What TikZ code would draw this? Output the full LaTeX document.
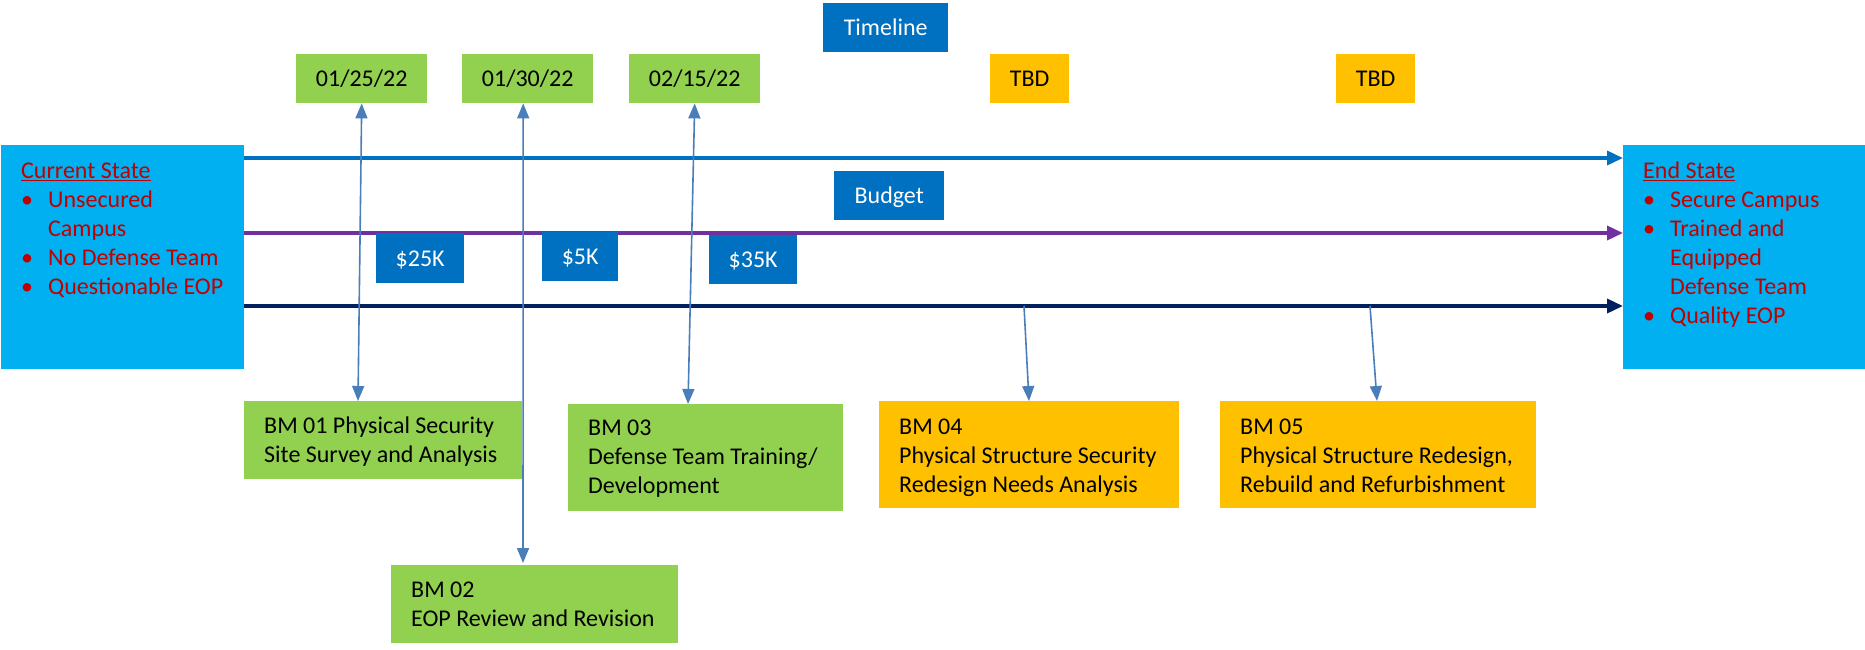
\documentclass[tikz,border=0pt]{standalone}
\usepackage{fontspec}
\setmainfont{Carlito}
\usetikzlibrary{arrows.meta}
\definecolor{stbox}{HTML}{00B0F0}
\definecolor{sttext}{HTML}{C00000}
\definecolor{grn}{HTML}{92D050}
\definecolor{orng}{HTML}{FFC000}
\definecolor{bluebox}{HTML}{0070C0}
\definecolor{purp}{HTML}{7030A0}
\definecolor{navy}{HTML}{002060}
\definecolor{conn}{HTML}{4A7EBB}
\newcommand{\topstrut}{\rule{0pt}{20pt}}
\newcommand{\bul}{\makebox[27pt][l]{•}}
\begin{document}
\begin{tikzpicture}[x=1pt,y=-1pt,
  box/.style={draw=none, inner sep=0pt, anchor=north west, font=\fontsize{24}{29}\selectfont, text height=16pt, text depth=0pt},
  txt/.style={anchor=north west, inner sep=0pt, align=left, font=\fontsize{24}{29}\selectfont},
  hline/.style={line width=3.5pt, -{Triangle[length=16pt,width=14pt]}},
  vline/.style={conn, line width=1.6pt},
  uparr/.style={vline, {Triangle[length=15pt,width=12pt]}-{Triangle[length=15pt,width=12pt]}},
  dnarr/.style={vline, -{Triangle[length=15pt,width=12pt]}}
]
\useasboundingbox (0,0) rectangle (1865,649);

% state boxes
\node[box, fill=stbox, minimum width=243pt, minimum height=224pt] (cur) at (1,145) {};
\node[box, fill=stbox, minimum width=242pt, minimum height=224pt] (end) at (1623,145) {};
\node[txt, text=sttext] (curtxt) at (21,158) {\topstrut\underline{Current State}\\
\bul Unsecured\\
\hspace*{27pt}Campus\\
\bul No Defense Team\\
\bul Questionable EOP};
\node[txt, text=sttext] (endtxt) at (1643,158) {\topstrut\underline{End State}\\
\bul Secure Campus\\
\bul Trained and\\
\hspace*{27pt}Equipped\\
\hspace*{27pt}Defense Team\\
\bul Quality EOP};

% horizontal lines
\draw[hline, bluebox] ([yshift=-13pt]cur.north east) -- ([yshift=-13pt]end.north west);
\draw[hline, purp] ([yshift=-88pt]cur.north east) -- ([yshift=-88pt]end.north west);
\draw[hline, navy] ([yshift=-161pt]cur.north east) -- ([yshift=-161pt]end.north west);

% header boxes
\node[box, fill=bluebox, text=white, minimum width=125pt, minimum height=49pt] (timeline) at (823,3) {Timeline};
\node[box, fill=bluebox, text=white, minimum width=110pt, minimum height=49pt] (budget) at (834,171) {Budget};

% dates
\node[box, fill=grn, minimum width=131pt, minimum height=49pt] (d1) at (296,54) {01/25/22};
\node[box, fill=grn, minimum width=131pt, minimum height=49pt] (d2) at (462,54) {01/30/22};
\node[box, fill=grn, minimum width=131pt, minimum height=49pt] (d3) at (629,54) {02/15/22};
\node[box, fill=orng, minimum width=79pt, minimum height=49pt] (d4) at (990,54) {TBD};
\node[box, fill=orng, minimum width=79pt, minimum height=49pt] (d5) at (1336,54) {TBD};

% budget amounts
\node[box, fill=bluebox, text=white, minimum width=88pt, minimum height=50pt] (b1) at (376,233) {\$25K};
\node[box, fill=bluebox, text=white, minimum width=76pt, minimum height=49pt] (b2) at (542,232) {\$5K};
\node[box, fill=bluebox, text=white, minimum width=88pt, minimum height=49pt] (b3) at (709,235) {\$35K};

% milestone boxes
\node[box, fill=grn, minimum width=278pt, minimum height=78pt] (bm1) at (244,401) {};
\node[box, fill=grn, minimum width=287pt, minimum height=78pt] (bm2) at (391,565) {};
\node[box, fill=grn, minimum width=275pt, minimum height=107pt] (bm3) at (568,404) {};
\node[box, fill=orng, minimum width=300pt, minimum height=107pt] (bm4) at (879,401) {};
\node[box, fill=orng, minimum width=316pt, minimum height=107pt] (bm5) at (1220,401) {};

\node[txt] (bm1txt) at (264,413) {\topstrut BM 01 Physical Security\\Site Survey and Analysis};
\node[txt] (bm2txt) at (411,577) {\topstrut BM 02\\EOP Review and Revision};
\node[txt] (bm3txt) at (588,415) {\topstrut BM 03\\Defense Team Training/\\Development};
\node[txt] (bm4txt) at (899,414) {\topstrut BM 04\\Physical Structure Security\\Redesign Needs Analysis};
\node[txt] (bm5txt) at (1240,414) {\topstrut BM 05\\Physical Structure Redesign,\\Rebuild and Refurbishment};

% connectors
\coordinate (n4) at (1024,306);
\coordinate (n5) at (1370,306);
\draw[uparr] (d1.south) -- ([xshift=114pt]bm1.north west);
\draw[uparr] ([xshift=-4.5pt]d2.south) -- ([xshift=132pt,yshift=2pt]bm2.north west);
\draw[uparr] (d3.south) -- ([xshift=120pt]bm3.north west);
\draw[dnarr] (n4) -- ([xshift=150pt]bm4.north west);
\draw[dnarr] (n5) -- ([xshift=157pt]bm5.north west);
\end{tikzpicture}
\end{document}
